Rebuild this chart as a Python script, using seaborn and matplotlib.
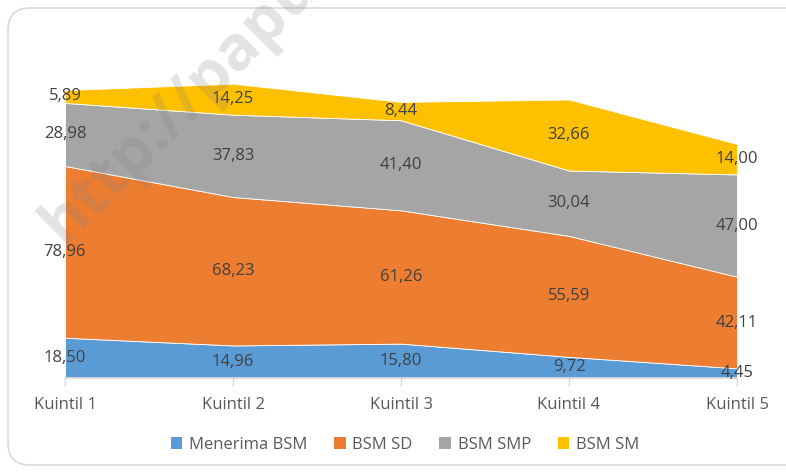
import numpy as np
import matplotlib
matplotlib.use("Agg")
import matplotlib.pyplot as plt
import seaborn as sns
from matplotlib.patches import FancyBboxPatch, Patch

# ===== Data =====
categories = ["Kuintil 1", "Kuintil 2", "Kuintil 3", "Kuintil 4", "Kuintil 5"]
series_names = ["Menerima BSM", "BSM SD", "BSM SMP", "BSM SM"]
menerima_bsm = [18.50, 14.96, 15.80, 9.72, 4.45]
bsm_sd = [78.96, 68.23, 61.26, 55.59, 42.11]
bsm_smp = [28.98, 37.83, 41.40, 30.04, 47.00]
bsm_sm = [5.89, 14.25, 8.44, 32.66, 14.00]
colors = ["#5B9BD5", "#ED7D31", "#A5A5A5", "#FFC000"]

# ===== Style =====
sns.set_theme(style="white")
plt.rcParams["font.family"] = ["Open Sans", "DejaVu Sans"]

fig = plt.figure(figsize=(7.86, 4.73), dpi=100)
ax = fig.add_axes([65 / 786, 1 - 378 / 473, 672 / 786, (378 - 73.4) / 473])

values = np.array([menerima_bsm, bsm_sd, bsm_smp, bsm_sm])
x = np.arange(len(categories))
ax.stackplot(x, values, colors=colors, edgecolor="white", linewidth=0.6)

# ===== Data labels (centre of each band) =====
bottoms = np.vstack([np.zeros(len(categories)), np.cumsum(values, axis=0)[:-1]])
for i in range(values.shape[0]):
    for j in range(len(categories)):
        y = bottoms[i, j] + values[i, j] / 2
        ax.text(x[j], y, f"{values[i, j]:.2f}".replace(".", ","),
                ha="center", va="center", fontsize=12, color="#404040")

ax.set_xlim(0, 4)
ax.set_ylim(0, 140)
ax.set_yticks([])
ax.set_xticks(x)
ax.set_xticklabels(categories, fontsize=12, color="#595959")
ax.tick_params(axis="x", length=6, width=1, color="#D9D9D9", direction="out", pad=8, bottom=True)
sns.despine(ax=ax, left=True, top=True, right=True)
ax.spines["bottom"].set_color("#D9D9D9")
ax.set_facecolor("none")

# ===== Legend =====
handles = [Patch(facecolor=c, edgecolor="none") for c in colors]
fig.legend(handles, series_names, loc="center", bbox_to_anchor=(405 / 786, 1 - 445 / 473),
           ncol=4, frameon=False, fontsize=12, handlelength=0.7, handleheight=0.7,
           handletextpad=0.4, columnspacing=1.6, labelcolor="#595959")

# ===== Watermark & border =====
fig.text(74 / 786, 1 - 256 / 473, "http://papu", rotation=45, rotation_mode="anchor",
         ha="left", va="bottom", fontsize=45, fontweight="bold", color="#808080", alpha=0.22)
border = FancyBboxPatch((8, 8), 800, 457, boxstyle="round,pad=0,rounding_size=22",
                        transform=None, facecolor="none", edgecolor="#D9D9D9", linewidth=1.2)
fig.patches.append(border)

fig.savefig("out.png", dpi=100)
